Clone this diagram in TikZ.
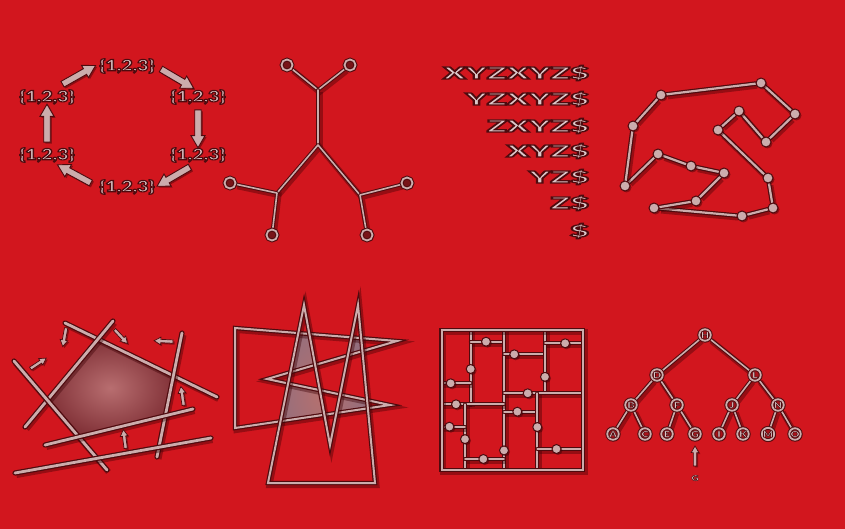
\documentclass[tikz,border=0pt]{standalone}
\usepackage{fontspec}
\setmainfont{DejaVu Sans}
\newfontfamily\heavyfont{Lato Black}
\usepackage{graphicx}
\usetikzlibrary{shapes.arrows, shadows, backgrounds}

\definecolor{bgred}{RGB}{210,22,30}
\definecolor{pipec}{RGB}{204,172,172}
\definecolor{rimc}{RGB}{78,10,14}
\definecolor{shadec}{RGB}{60,0,4}
\definecolor{ringin}{RGB}{120,20,24}
\definecolor{leafin}{RGB}{170,18,26}
\definecolor{txtc}{RGB}{220,200,202}
\definecolor{hullin}{RGB}{184,110,112}
\definecolor{hullout}{RGB}{130,50,56}
\definecolor{overin}{RGB}{182,112,110}
\definecolor{overc}{RGB}{142,110,128}

% light letters with a dark rim
\newcommand{\logotext}[2][.9]{\textcolor{txtc}{\special{pdf:literal direct 0.306 0.039 0.055 RG 2 Tr #1 w}#2\special{pdf:literal direct 0 Tr}}}

\begin{document}
\begin{tikzpicture}[x=1pt, y=-1pt,
    pipe/.style={line width=1.2pt, draw=rimc, double=pipec, double distance=2.2pt,
        line cap=round, line join=round,
        preaction={draw=shadec, line width=6pt, opacity=.4,
            transform canvas={shift={(1.5pt,-2pt)}}}},
    twig/.style={pipe, double distance=1.6pt, line width=1pt},
    bar/.style={pipe, double distance=2.8pt, line width=1.2pt},
    wall/.style={pipe, double distance=1.8pt, line width=1pt},
    poly/.style={pipe, double distance=2pt, line join=miter},
    dshadow/.style={drop shadow={shadow xshift=1.5pt, shadow yshift=-1.5pt, fill=shadec, opacity=.45}},
    ball/.style={circle, draw=rimc, fill=pipec, line width=1pt, inner sep=0pt, minimum size=10pt, dshadow},
    knob/.style={ball, minimum size=9pt},
    ring/.style={circle, draw=rimc, double=pipec, double distance=1.8pt, line width=1pt,
        fill=ringin, inner sep=0pt, minimum size=11pt, dshadow},
    leaf/.style={ring, fill=leafin, minimum size=11.5pt, font=\heavyfont\fontsize{8.5}{8.5}\selectfont},
    settext/.style={inner sep=1pt, font=\heavyfont\fontsize{15.5}{16}\selectfont},
    suffix/.style={inner sep=0pt, anchor=east, font=\heavyfont\fontsize{16.5}{17}\selectfont},
    fatarrow/.style={single arrow, draw=rimc, fill=pipec, line width=.9pt, inner xsep=0pt,
        inner ysep=2.8pt, minimum height=38pt, single arrow head extend=3.8pt,
        single arrow tip angle=60, sloped, allow upside down, dshadow},
    normarrow/.style={fatarrow, minimum height=19pt, inner ysep=1.3pt,
        single arrow head extend=2.2pt, line width=.7pt},
]
\useasboundingbox (0,0) rectangle (845,529);
\begin{scope}[on background layer]
  \fill[bgred] (0,0) rectangle (845,529);
\end{scope}

% Cycle of sets
\foreach \nm/\x/\y in {t/127/66, ru/198/97, rl/198/155, b/127/187, ll/47/155, lu/47/97}
  \node[settext] (\nm) at (\x,\y) {\scalebox{1.25}[1]{\logotext[1.1]{\{1,2,3\}}}};
\path ([xshift=8pt]lu.north) -- node[fatarrow] (c1) {} ([yshift=2pt]t.west);
\path (t.east) -- node[fatarrow] (c2) {} ([xshift=-4pt]ru.north);
\path (ru.south) -- node[fatarrow] (c3) {} (rl.north);
\path ([xshift=-2pt]rl.south) -- node[fatarrow] (c4) {} (b.east);
\path (b.west) -- node[fatarrow] (c5) {} ([xshift=8pt]ll.south);
\path (ll.north) -- node[fatarrow] (c6) {} (lu.south);

% Tree of rings
\foreach \nm/\x/\y in {r1/287/65, r2/350/65, r3/230/183, r4/272/235, r5/407/183, r6/367/235}
  \node[ring] (\nm) at (\x,\y) {};
\coordinate (j0) at (318,145);
\coordinate (j1) at (318,90);
\coordinate (j2) at (277,193);
\coordinate (j3) at (360,195);
\begin{scope}[on background layer]
  \draw[twig] (r1) -- (j1) -- (r2);
  \draw[twig] (j1) -- (j0);
  \draw[twig] (j2) -- (j0) -- (j3);
  \draw[twig] (r3) -- (j2) -- (r4);
  \draw[twig] (r5) -- (j3) -- (r6);
\end{scope}

% Suffixes
\foreach \s/\y in {XYZXYZ/73, YZXYZ/99, ZXYZ/126, XYZ/151, YZ/177, Z/203, /231}
  \node[suffix] (s\y) at (589,\y) {\scalebox{1.95}[1]{\logotext[1.2]{\s\$}}};

% Polygon of balls
\foreach \nm/\x/\y in {1/761/83, 2/795/114, 3/766/142, 4/739/111, 5/718/130, 6/768/178,
    7/773/208, 8/742/216, 9/654/208, 10/696/201, 11/724/173, 12/691/166,
    13/658/154, 14/625/186, 15/633/126, 16/661/95}
  \node[ball] (q\nm) at (\x,\y) {};
\begin{scope}[on background layer]
  \foreach \i [remember=\i as \j (initially 16)] in {1,...,16}
    \draw[pipe] (q\j) -- (q\i);
\end{scope}

% Half planes
\coordinate (l1a) at (65,323);  \coordinate (l1b) at (217,397);
\coordinate (l2a) at (113,321); \coordinate (l2b) at (25,427);
\coordinate (l3a) at (182,333); \coordinate (l3b) at (157,457);
\coordinate (l4a) at (14,361);  \coordinate (l4b) at (107,470);
\coordinate (l5a) at (45,445);  \coordinate (l5b) at (193,409);
\coordinate (l6a) at (15,473);  \coordinate (l6b) at (211,438);
\shade[inner color=hullin, outer color=hullout]
  (intersection of l4a--l4b and l2a--l2b) -- (intersection of l2a--l2b and l1a--l1b)
  -- (intersection of l1a--l1b and l3a--l3b) -- (intersection of l3a--l3b and l5a--l5b)
  -- (intersection of l5a--l5b and l4a--l4b) -- cycle;
\foreach \k in {1,...,6}
  \draw[bar] (l\k a) -- (l\k b);
\path (66.7,325) -- node[normarrow] (m1) {} (62.7,346.7);
\path (113.3,328.3) -- node[normarrow] (m2) {} (126.7,342.7);
\path (175,341.7) -- node[normarrow] (m3) {} (155,340.7);
\path (28.3,370) -- node[normarrow] (m4) {} (46,358.3);
\path (184,407.3) -- node[normarrow] (m5) {} (181,387.3);
\path (126,450.7) -- node[normarrow] (m6) {} (123.3,430);

% Overlapping polygons
\begin{scope}
  \clip (235,328) -- (397,341) -- (267,379) -- (390,405) -- (235,428) -- cycle;
  \shade[inner color=overin, outer color=overc]
    (268,483) -- (304,305) -- (330,445) -- (358,305) -- (375,483) -- cycle;
\end{scope}
\draw[poly] (235,328) -- (397,341) -- (267,379) -- (390,405) -- (235,428) -- cycle;
\draw[poly] (268,483) -- (304,305) -- (330,445) -- (358,305) -- (375,483) -- cycle;

% Walls with knobs
\foreach \ax/\ay/\bx/\by/\p [count=\k] in {
    470.7/330/470.7/405/.52, 470.7/341.7/504/341.7/.46, 504/330/504/470/.86,
    504/354.3/545/354.3/.25, 545/330/545/393.3/.74, 545/343.3/583/343.3/.53,
    441.7/383.3/470.7/383.3/.31, 441.7/404.3/504/404.3/.23, 504/393.3/583/393.3/.30,
    465/404.3/465/470/.53, 441.7/426.7/465/426.7/.33, 465/459/504/459/.47,
    504/411.7/537.3/411.7/.40, 537.3/393.3/537.3/470/.44, 537.3/449/583/449/.42}
{
  \begin{scope}[on background layer]
    \draw[wall] (\ax,\ay) -- (\bx,\by);
  \end{scope}
  \path (\ax,\ay) -- node[knob, pos=\p] (k\k) {} (\bx,\by);
}
\draw[pipe, line join=miter] (441.7,330) rectangle (583,470);

% Search tree
\foreach \nm/\x/\y in {H/705/335, D/657/375, L/755/375, B/631/405, F/677/405, J/732/405,
    N/778/405, A/613/434, C/645/434, E/667/434, G/695/434, I/719/434, K/743/434,
    M/768/434, O/795/434}
  \node[leaf] (t\nm) at (\x,\y) {\scalebox{1.3}[1]{\logotext[.5]{\nm}}};
\begin{scope}[on background layer]
  \foreach \a/\b in {H/D, H/L, D/B, D/F, L/J, L/N, B/A, B/C, F/E, F/G, J/I, J/K, N/M, N/O}
    \draw[twig] (t\a) -- (t\b);
\end{scope}
\node[inner sep=.5pt, font=\heavyfont\fontsize{7.5}{7.5}\selectfont] (gq) at (695,478)
  {\scalebox{1.3}[1]{\logotext[.45]{G}}};
\path (gq) -- node[normarrow, minimum height=20pt] (gp) {} (tG);

\end{tikzpicture}
\end{document}
